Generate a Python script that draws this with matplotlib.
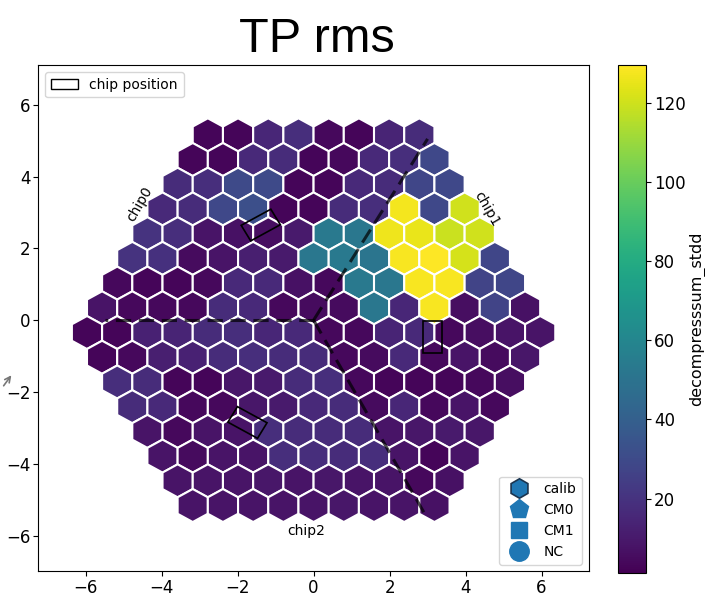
import numpy as np
import matplotlib.pyplot as plt
from matplotlib.patches import RegularPolygon, Rectangle
from matplotlib.collections import PatchCollection
from matplotlib.lines import Line2D

# decompresssum_stdd per cell, one list per row of the hexaboard (top row first)
row0 = [3, 3, 15, 18, 4, 3, 14, 17]
row1 = [3, 3, 16, 17, 3, 4, 16, 18, 29]
row2 = [17, 18, 30, 30, 3, 3, 16, 17, 28, 29]
row3 = [16, 17, 29, 32, 3, 3, 17, 18, 127, 29, 120]
row4 = [20, 18, 8, 7, 6, 10, 53, 52, 126, 125, 119, 120]
row5 = [20, 19, 5, 8, 12, 10, 52, 53, 51, 128, 129, 121, 28]
row6 = [4, 3, 3, 4, 16, 16, 7, 4, 53, 52, 128, 128, 27, 28]
row7 = [8, 4, 4, 4, 17, 16, 4, 5, 5, 52, 15, 128, 6, 27, 7]
row8 = [3, 3, 13, 14, 17, 18, 15, 16, 4, 4, 14, 16, 4, 6, 8, 8]
row9 = [3, 4, 12, 13, 17, 18, 17, 17, 4, 5, 16, 4, 8, 5, 9]
row10 = [18, 17, 3, 3, 9, 10, 17, 18, 4, 3, 3, 3, 4, 6]
row11 = [17, 16, 4, 4, 9, 10, 16, 17, 5, 15, 4, 8, 4]
row12 = [8, 4, 8, 8, 18, 17, 17, 17, 8, 9, 10, 9]
row13 = [8, 5, 8, 8, 18, 18, 17, 18, 8, 3, 8]
row14 = [8, 8, 8, 9, 8, 9, 8, 8, 4, 7]
row15 = [8, 8, 8, 8, 8, 9, 8, 8, 7]
rows = [row0, row1, row2, row3, row4, row5, row6, row7,
        row8, row9, row10, row11, row12, row13, row14, row15]

vmin, vmax = 1.3, 129.5

# chip outlines and labels
chip_centers = [(-1.39, 2.65), (3.14, -0.46), (-1.74, -2.85)]
chip_angles = [30, 90, -30]
chip_names = ['chip0', 'chip1', 'chip2']
chip_label_pos = [(-4.58, 3.23), (4.55, 3.09), (-0.2, -5.86)]
chip_label_rot = [60, -60, 0]
# sector borders drawn from the wafer centre
border_ends = [(-5.5, 0.0), (3.0, 5.05), (2.9, -5.35)]

pitch = 0.795
radius = pitch / np.sqrt(3)
row_pitch = 1.5 * radius

fig = plt.figure(figsize=(7.05, 5.99), dpi=100)
ax = fig.add_axes([0.054, 0.046, 0.7816, 0.845])
cax = fig.add_axes([0.877, 0.044, 0.0397, 0.8475])

patches = []
values = []
nrows = len(rows)
for r, vals in enumerate(rows):
    y = ((nrows - 1) / 2 - r) * row_pitch
    n = len(vals)
    for k, v in enumerate(vals):
        x = (k - (n - 1) / 2) * pitch
        patches.append(RegularPolygon((x, y), 6, radius=radius))
        values.append(v)

pc = PatchCollection(patches, cmap='viridis', edgecolor='white', linewidth=1.5)
pc.set_array(np.array(values, dtype=float))
pc.set_clim(vmin, vmax)
ax.add_collection(pc)

for (ex, ey) in border_ends:
    ax.plot([0, ex], [0, ey], color='k', alpha=0.7, lw=2.2, dashes=(5, 2.5))

for (cx, cy), ang in zip(chip_centers, chip_angles):
    rect = Rectangle((cx - 0.45, cy - 0.25), 0.9, 0.5, angle=ang,
                     rotation_point='center', fill=False, ec='k', lw=1.2)
    ax.add_patch(rect)

for name, (tx, ty), rot in zip(chip_names, chip_label_pos, chip_label_rot):
    ax.text(tx, ty, name, rotation=rot, ha='center', va='center', fontsize=10)

ax.set_xlim(-7.25, 7.25)
ax.set_ylim(-7.0, 7.1)
ax.tick_params(labelsize=12, pad=2)

leg1 = ax.legend([Rectangle((0, 0), 1, 1, fill=False, ec='k', lw=1.0)],
                 ['chip position'], loc='upper left', fontsize=10)
ax.add_artist(leg1)

handles = [
    Line2D([], [], ls='', marker='h', ms=14, color='C0', mec='#1b3550', mew=1.2),
    Line2D([], [], ls='', marker='p', ms=14, color='C0'),
    Line2D([], [], ls='', marker='s', ms=11, color='C0'),
    Line2D([], [], ls='', marker='o', ms=14, color='C0'),
]
ax.legend(handles, ['calib', 'CM0', 'CM1', 'NC'], loc='lower right', fontsize=10)

cb = fig.colorbar(pc, cax=cax)
cb.set_ticks([20, 40, 60, 80, 100, 120])
cb.ax.tick_params(labelsize=12, pad=2)
cb.set_label('decompresssum_stdd', fontsize=11.5, labelpad=2)

fig.text(0.449, 0.913, 'TP rms', ha='center', va='baseline', fontsize=35,
         family='Liberation Sans')

ax.annotate('', xy=(13 / 705, 1 - 373 / 599), xytext=(2 / 705, 1 - 388 / 599),
            xycoords='figure fraction', textcoords='figure fraction',
            arrowprops=dict(arrowstyle='->', color='#777777', lw=1.2))

fig.savefig('out.png', dpi=100)
